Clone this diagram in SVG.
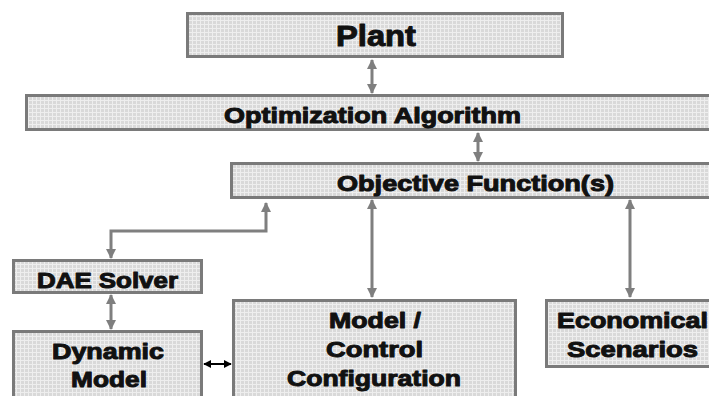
<svg xmlns="http://www.w3.org/2000/svg" width="709" height="396" viewBox="0 0 709 396">
  <defs>
    <!-- fine light grid texture used as box fill -->
    <pattern id="grid" width="4" height="4" patternUnits="userSpaceOnUse">
      <rect width="4" height="4" fill="#d9d9d9"/>
      <path d="M0 0.5H4M0.5 0V4" stroke="#eeeeee" stroke-width="1"/>
    </pattern>
    <marker id="gh" viewBox="0 0 10 10" refX="9" refY="5" markerWidth="10" markerHeight="10" markerUnits="userSpaceOnUse" orient="auto-start-reverse">
      <path d="M0 0L10 5L0 10Z" fill="#7f7f7f"/>
    </marker>
    <marker id="bh" viewBox="0 0 10 10" refX="9" refY="5" markerWidth="8" markerHeight="8" markerUnits="userSpaceOnUse" orient="auto-start-reverse">
      <path d="M0 0L10 5L0 10Z" fill="#000"/>
    </marker>
  </defs>
  <style>
    .box { fill: url(#grid); stroke: #7a7a7a; stroke-width: 3; }
    .lbl { font-family: "Liberation Sans", Arial, sans-serif; font-weight: bold; font-size: 22px; fill: #111; stroke: #111; stroke-width: 1; stroke-linejoin: round; }
    .big { font-size: 29px; }
    .gc { fill: none; stroke: #7f7f7f; stroke-width: 3; marker-start: url(#gh); marker-end: url(#gh); }
    .bc { fill: none; stroke: #000; stroke-width: 2; marker-start: url(#bh); marker-end: url(#bh); }
  </style>

  <g id="connectors">
    <path class="gc" d="M372 60V93"/>
    <path class="gc" d="M478 133V161"/>
    <path class="gc" d="M372 200V297"/>
    <path class="gc" d="M630 200V297"/>
    <path class="gc" d="M111 295V329"/>
    <path class="gc" d="M111 258V231H266V203"/>
    <path class="bc" d="M204 364H231"/>
  </g>

  <g id="plant">
    <rect class="box" x="187.5" y="13.5" width="375" height="43"/>
    <text class="lbl big" x="336" y="45.5" textLength="80" lengthAdjust="spacingAndGlyphs">Plant</text>
  </g>

  <g id="optimization">
    <rect class="box" x="26.5" y="95.5" width="700" height="34"/>
    <text class="lbl" x="224" y="122.5" textLength="297" lengthAdjust="spacingAndGlyphs">Optimization Algorithm</text>
  </g>

  <g id="objective">
    <rect class="box" x="231.5" y="163.5" width="500" height="34"/>
    <text class="lbl" x="337" y="190.5" textLength="277" lengthAdjust="spacingAndGlyphs">Objective Function(s)</text>
  </g>

  <g id="dae-solver">
    <rect class="box" x="13.5" y="260.5" width="188" height="32"/>
    <text class="lbl" x="37" y="287.5" textLength="141" lengthAdjust="spacingAndGlyphs">DAE Solver</text>
  </g>

  <g id="dynamic-model">
    <rect class="box" x="13.5" y="331.5" width="188" height="100"/>
    <text class="lbl" x="52" y="358.5" textLength="112" lengthAdjust="spacingAndGlyphs">Dynamic</text>
    <text class="lbl" x="71" y="386.5" textLength="76" lengthAdjust="spacingAndGlyphs">Model</text>
  </g>

  <g id="model-control">
    <rect class="box" x="233.5" y="300.5" width="282" height="120"/>
    <text class="lbl" x="329" y="327.5" textLength="92" lengthAdjust="spacingAndGlyphs">Model /</text>
    <text class="lbl" x="326" y="356.5" textLength="97" lengthAdjust="spacingAndGlyphs">Control</text>
    <text class="lbl" x="287" y="385.5" textLength="174" lengthAdjust="spacingAndGlyphs">Configuration</text>
  </g>

  <g id="economical">
    <rect class="box" x="546.5" y="300.5" width="200" height="66"/>
    <text class="lbl" x="557" y="327.5" textLength="151" lengthAdjust="spacingAndGlyphs">Economical</text>
    <text class="lbl" x="567" y="356.5" textLength="131" lengthAdjust="spacingAndGlyphs">Scenarios</text>
  </g>
</svg>
